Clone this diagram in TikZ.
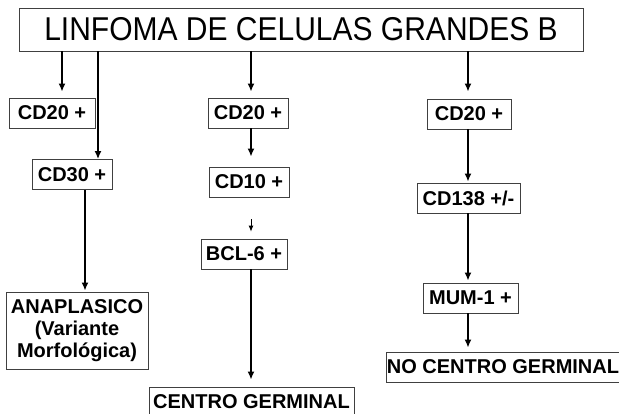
\documentclass[tikz,border=0pt]{standalone}
\usepackage{fontspec}
\setmainfont{Liberation Sans}
\usetikzlibrary{arrows.meta}

\begin{document}
\begin{tikzpicture}[x=1pt,y=-1pt,
  caja/.style={draw=black!75,line width=0.8pt,fill=white,inner sep=0pt,minimum height=30pt,font=\bfseries\fontsize{20}{22}\selectfont},
  flecha/.style={>={Latex[length=8pt,width=7pt]},->,line width=1.8pt},
  flechina/.style={>={Latex[length=6pt,width=5pt]},->,line width=0.8pt}]
\useasboundingbox (0,0) rectangle (619,413);
\fill [white] (0,0) rectangle (619,413);
% titulo
\node [draw=black!75,line width=0.8pt,minimum width=564pt,minimum height=43pt,inner sep=0pt,font=\fontsize{30}{36}\selectfont] (titulo) at (301,29.5) {\scalebox{1}[1.1]{LINFOMA DE CELULAS GRANDES B}};
% columna izquierda
\node [caja,minimum width=86pt] (cd20a) at (52,113) {CD20 +};
\node [caja,minimum width=80pt] (cd30) at (72,174.5) {CD30 +};
\node [caja,minimum width=142pt,minimum height=77pt,align=center] (anap) at (77,330.5) {ANAPLASICO\\(Variante\\Morfológica)};
% columna central
\node [caja,minimum width=80pt] (cd20b) at (248,113) {CD20 +};
\node [caja,minimum width=80pt] (cd10) at (249,182) {CD10 +};
\node [caja,minimum width=86pt] (bcl6) at (244,254) {BCL-6 +};
\node [caja,minimum width=205pt] (centro) at (251.5,402) {CENTRO GERMINAL};
% columna derecha
\node [caja,minimum width=84pt] (cd20c) at (469,114) {CD20 +};
\node [caja,minimum width=103pt] (cd138) at (468.5,198) {CD138 +/-};
\node [caja,minimum width=95pt] (mum1) at (470.5,298) {MUM-1 +};
\node [caja,minimum width=234pt] (nocentro) at (503,367) {NO CENTRO GERMINAL};
% columnas de las flechas
\coordinate (c1) at (62,0);
\coordinate (c2) at (98,0);
\coordinate (c3) at (85,0);
\coordinate (c4) at (251,0);
\coordinate (c5) at (468,0);
% flechas
\draw [flecha,shorten >=6pt] (titulo.south -| c1) -- (cd20a.north -| c1);
\draw [flecha,shorten >=0pt] (titulo.south -| c2) -- (cd30.north -| c2);
\draw [flecha,shorten >=1pt] (cd30.south -| c3) -- (anap.north -| c3);
\draw [flecha,shorten >=6pt] (titulo.south -| c4) -- (cd20b.north -| c4);
\draw [flecha,shorten >=10pt] (cd20b.south -| c4) -- (cd10.north -| c4);
\draw [flechina,shorten <=22pt,shorten >=7pt] (cd10.south -| c4) -- (bcl6.north -| c4);
\draw [flecha,shorten >=7pt] (bcl6.south -| c4) -- (centro.north -| c4);
\draw [flecha,shorten >=7pt] (titulo.south -| c5) -- (cd20c.north -| c5);
\draw [flecha,shorten >=1pt] (cd20c.south -| c5) -- (cd138.north -| c5);
\draw [flecha,shorten >=2pt] (cd138.south -| c5) -- (mum1.north -| c5);
\draw [flecha,shorten >=4pt] (mum1.south -| c5) -- (nocentro.north -| c5);
\end{tikzpicture}
\end{document}
